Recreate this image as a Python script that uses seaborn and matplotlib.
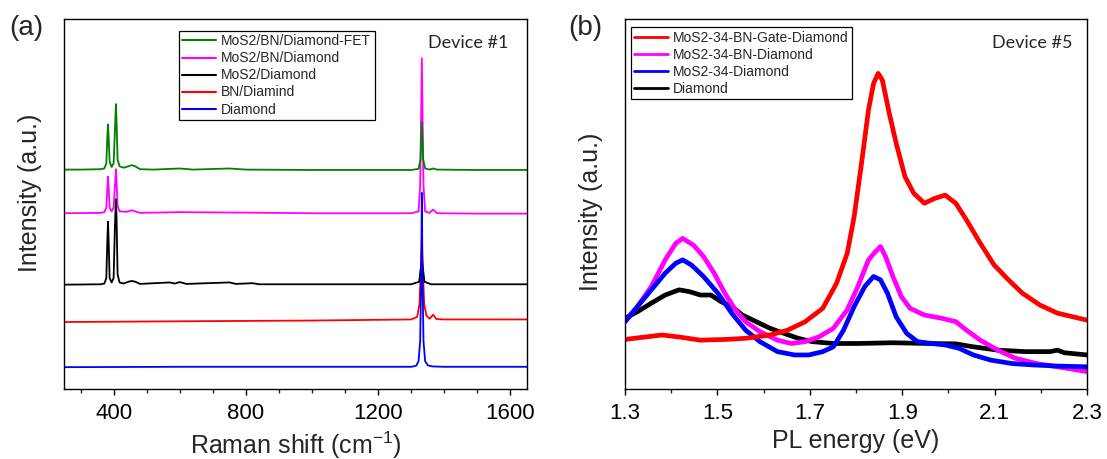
import matplotlib
matplotlib.use("Agg")
import matplotlib.pyplot as plt
import seaborn as sns
from matplotlib.ticker import MultipleLocator

# ---- (a) Raman spectra, offset stacked (intensity in % of axis height) ----
fet_x = [250, 300, 360, 372, 378, 381, 383, 385, 388, 394, 400, 404, 407, 409, 412, 418, 430, 445, 455,
         465, 480, 520, 600, 640, 750, 800, 1000, 1300, 1322, 1328, 1332, 1336, 1342, 1355, 1366, 1378, 1500, 1650]
fet_y = [59.3, 59.3, 59.4, 59.6, 61.0, 68.0, 71.5, 68.0, 61.5, 60.0, 61.0, 70.0, 77.0, 72.0, 62.0, 60.2, 59.8,
         60.2, 60.5, 60.2, 59.4, 59.3, 59.6, 59.3, 59.6, 59.3, 59.2, 59.2, 59.5, 62.0, 72.1, 62.0, 59.6, 59.3,
         59.6, 59.3, 59.2, 59.2]

bn_mos2_x = [250, 360, 372, 378, 381, 383, 385, 388, 394, 400, 404, 407, 409, 412, 418, 440, 455, 480, 600,
             750, 1000, 1300, 1322, 1327, 1332, 1337, 1342, 1355, 1366, 1378, 1500, 1650]
bn_mos2_y = [47.5, 47.6, 47.8, 49.0, 54.5, 57.4, 54.5, 49.0, 48.0, 49.0, 55.0, 59.4, 56.0, 49.5, 48.0, 47.9,
             48.3, 47.6, 47.8, 47.7, 47.5, 47.5, 48.0, 55.0, 89.4, 55.0, 48.0, 47.6, 48.5, 47.5, 47.4, 47.4]

mos2_x = [250, 360, 372, 378, 381, 383, 385, 388, 394, 400, 404, 407, 409, 412, 418, 430, 445, 455, 465,
          480, 570, 585, 600, 620, 750, 770, 820, 840, 1000, 1300, 1324, 1332, 1340, 1360, 1500, 1650]
mos2_y = [28.2, 28.3, 28.5, 30.0, 40.0, 45.2, 40.0, 30.0, 28.8, 30.0, 44.0, 51.3, 46.0, 31.0, 28.8, 28.5,
          29.0, 29.2, 29.0, 28.4, 28.8, 28.5, 28.9, 28.4, 28.8, 28.4, 28.6, 28.3, 28.3, 28.3, 29.0, 35.0,
          29.0, 28.3, 28.3, 28.3]

bn_x = [250, 600, 1000, 1300, 1318, 1325, 1332, 1339, 1346, 1356, 1366, 1376, 1400, 1650]
bn_y = [18.1, 18.3, 18.5, 18.8, 19.5, 23.0, 40.0, 23.0, 19.8, 19.0, 20.1, 18.9, 18.8, 18.8]

dia_x = [250, 600, 1000, 1300, 1315, 1322, 1327, 1330, 1332, 1334, 1337, 1342, 1350, 1365, 1400, 1650]
dia_y = [5.9, 6.0, 6.0, 6.0, 6.3, 7.5, 13.0, 30.0, 53.0, 30.0, 13.0, 7.5, 6.4, 6.1, 6.0, 6.0]

# ---- (b) PL spectra (intensity in % of axis height) ----
gate_x = [1.300, 1.340, 1.380, 1.420, 1.463, 1.520, 1.561, 1.614, 1.652, 1.690, 1.728, 1.758, 1.781, 1.796,
          1.811, 1.827, 1.838, 1.848, 1.857, 1.872, 1.887, 1.906, 1.925, 1.948, 1.970, 1.993, 2.016, 2.039,
          2.069, 2.099, 2.130, 2.160, 2.198, 2.236, 2.270, 2.300]
gate_y = [13.4, 14.0, 14.6, 14.0, 13.2, 13.4, 13.7, 14.6, 15.9, 18.2, 21.8, 28.6, 36.7, 46.6, 60.1, 75.4,
          82.6, 85.3, 83.5, 74.5, 66.4, 57.4, 52.9, 50.2, 51.5, 52.4, 50.2, 45.7, 39.4, 33.5, 29.5, 25.9,
          22.7, 20.5, 19.5, 18.6]

bnd_x = [1.300, 1.327, 1.357, 1.387, 1.410, 1.425, 1.448, 1.470, 1.493, 1.516, 1.539, 1.561, 1.592, 1.630,
         1.660, 1.690, 1.720, 1.751, 1.781, 1.804, 1.827, 1.842, 1.853, 1.864, 1.880, 1.898, 1.917, 1.948,
         1.986, 2.016, 2.039, 2.069, 2.107, 2.145, 2.190, 2.236, 2.300]
bnd_y = [18.2, 22.3, 27.7, 34.9, 39.4, 40.7, 38.9, 35.8, 31.3, 25.9, 21.4, 18.2, 15.5, 13.2, 12.3, 12.8,
         14.1, 16.4, 21.4, 27.7, 34.9, 37.1, 38.5, 35.8, 30.4, 25.0, 21.8, 20.0, 19.1, 18.2, 15.9, 13.2,
         10.5, 8.3, 6.9, 6.0, 4.7]

md_x = [1.300, 1.327, 1.357, 1.387, 1.410, 1.425, 1.444, 1.470, 1.501, 1.531, 1.561, 1.592, 1.630, 1.667,
        1.698, 1.728, 1.751, 1.773, 1.796, 1.819, 1.838, 1.853, 1.868, 1.887, 1.910, 1.933, 1.963, 1.993,
        2.023, 2.054, 2.092, 2.137, 2.183, 2.236, 2.300]
md_y = [18.2, 22.3, 26.8, 31.3, 34.0, 34.9, 33.5, 30.4, 25.9, 20.5, 15.9, 12.8, 10.1, 9.2, 9.2, 10.1, 11.4,
        15.9, 22.3, 27.7, 30.4, 29.5, 25.9, 19.5, 15.0, 12.8, 12.3, 11.9, 11.0, 9.2, 7.8, 6.9, 6.5, 6.2, 6.0]

sub_x = [1.300, 1.327, 1.357, 1.387, 1.417, 1.440, 1.463, 1.486, 1.508, 1.531, 1.554, 1.584, 1.614, 1.645,
         1.675, 1.705, 1.751, 1.804, 1.880, 1.955, 2.016, 2.054, 2.107, 2.167, 2.220, 2.236, 2.251, 2.300]
sub_y = [19.1, 20.9, 23.2, 25.4, 26.8, 26.3, 25.4, 25.4, 23.6, 22.3, 20.0, 18.2, 16.4, 15.0, 13.7, 12.8,
         12.3, 12.3, 12.5, 12.3, 12.2, 11.4, 10.5, 10.1, 10.1, 10.5, 9.8, 9.2]

raman_series = [
    ("BN/Diamind", bn_x, bn_y, "#ff0000"),
    ("MoS2/BN/Diamond", bn_mos2_x, bn_mos2_y, "#ff00ff"),
    ("MoS2/Diamond", mos2_x, mos2_y, "#000000"),
    ("Diamond", dia_x, dia_y, "#0000ff"),
    ("MoS2/BN/Diamond-FET", fet_x, fet_y, "#008000"),
]
raman_legend = ["MoS2/BN/Diamond-FET", "MoS2/BN/Diamond", "MoS2/Diamond", "BN/Diamind", "Diamond"]

pl_series = [
    ("Diamond", sub_x, sub_y, "#000000"),
    ("MoS2-34-BN-Diamond", bnd_x, bnd_y, "#ff00ff"),
    ("MoS2-34-Diamond", md_x, md_y, "#0000ff"),
    ("MoS2-34-BN-Gate-Diamond", gate_x, gate_y, "#ff0000"),
]
pl_legend = ["MoS2-34-BN-Gate-Diamond", "MoS2-34-BN-Diamond", "MoS2-34-Diamond", "Diamond"]

sns.set_theme(style="ticks")
plt.rcParams["font.family"] = ["Liberation Sans", "DejaVu Sans"]
plt.rcParams["mathtext.fontset"] = "custom"
plt.rcParams["mathtext.rm"] = "Liberation Sans"
plt.rcParams["mathtext.it"] = "Liberation Sans:italic"

fig = plt.figure(figsize=(11.07, 4.59), dpi=100)
ax1 = fig.add_axes([64 / 1107, 1 - 389 / 459, 463 / 1107, 370 / 459])
ax2 = fig.add_axes([625 / 1107, 1 - 389 / 459, 462 / 1107, 370 / 459])


def style_axis(ax):
    for s in ax.spines.values():
        s.set_visible(True)
        s.set_color("black")
        s.set_linewidth(1.0)
    ax.set_yticks([])
    ax.tick_params(axis="x", which="major", direction="out", length=4, width=1.0,
                   labelsize=16, pad=6, colors="black", top=False)
    ax.tick_params(axis="x", which="minor", direction="out", length=3, width=1.0, top=False)
    ax.set_ylim(0, 100)


def make_legend(ax, order, anchor, lw):
    handles, labels = ax.get_legend_handles_labels()
    lookup = dict(zip(labels, handles))
    leg = ax.legend([lookup[k] for k in order], order, loc="upper left", bbox_to_anchor=anchor,
                    borderaxespad=0, fontsize=10, frameon=True, fancybox=False, framealpha=1,
                    edgecolor="black", handlelength=2.4, handletextpad=0.4, labelspacing=0.22,
                    borderpad=0.25)
    leg.get_frame().set_linewidth(0.9)
    for h in leg.get_lines():
        h.set_linewidth(lw)


for name, xs, ys, col in raman_series:
    sns.lineplot(x=xs, y=ys, ax=ax1, color=col, lw=1.3, label=name, sort=False, estimator=None)
style_axis(ax1)
ax1.set_xlim(250, 1650)
ax1.xaxis.set_major_locator(MultipleLocator(400))
ax1.xaxis.set_minor_locator(MultipleLocator(100))
ax1.set_xlabel("Raman shift (cm$^{-1}$)", fontsize=18, labelpad=4)
ax1.set_ylabel("Intensity (a.u.)", fontsize=18, labelpad=16)
ax1.yaxis.label.set_y(0.53)
make_legend(ax1, raman_legend, (0.248, 0.968), 1.5)
ax1.text(0.786, 0.936, "Device #1", transform=ax1.transAxes, fontsize=13,
         family=["Lato", "DejaVu Sans"], va="center", ha="left")

for name, xs, ys, col in pl_series:
    sns.lineplot(x=xs, y=ys, ax=ax2, color=col, lw=3.4, label=name, sort=False, estimator=None)
style_axis(ax2)
ax2.set_xlim(1.3, 2.3)
ax2.xaxis.set_minor_locator(MultipleLocator(0.1))
ax2.set_xticks([1.3, 1.5, 1.7, 1.9, 2.1, 2.3])
ax2.set_xlabel("PL energy (eV)", fontsize=18, labelpad=4)
ax2.set_ylabel("Intensity (a.u.)", fontsize=18, labelpad=16)
ax2.yaxis.label.set_y(0.48)
make_legend(ax2, pl_legend, (0.013, 0.978), 2.0)
ax2.text(0.794, 0.935, "Device #5", transform=ax2.transAxes, fontsize=13,
         family=["Lato", "DejaVu Sans"], va="center", ha="left")

fig.text(26 / 1107, 1 - 28 / 459, "(a)", fontsize=20, ha="center", va="center")
fig.text(585 / 1107, 1 - 28 / 459, "(b)", fontsize=20, ha="center", va="center")

fig.savefig("out.png", dpi=100)
